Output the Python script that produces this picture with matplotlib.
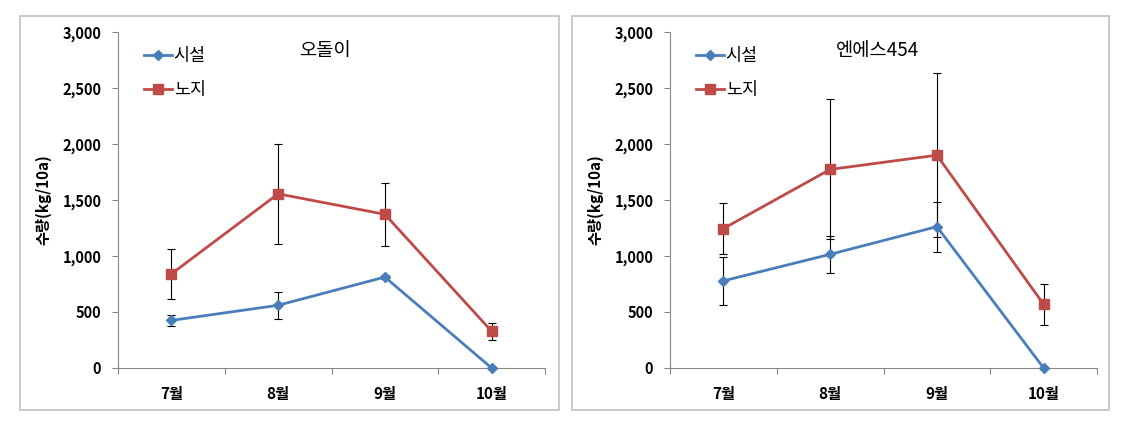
import matplotlib
matplotlib.use("Agg")
import matplotlib.pyplot as plt
from matplotlib.patches import Rectangle
from matplotlib.ticker import FuncFormatter, FixedLocator
import numpy as np

plt.rcParams['font.family'] = ['Noto Sans CJK KR', 'DejaVu Sans']

months = ['7월', '8월', '9월', '10월']
series_names = ['시설', '노지']
titles = ['오돌이', '엔에스454']

# 오돌이
odol_facility = [425, 560, 812, 0]
odol_facility_err = [48, 120, 15, 0]
odol_open = [840, 1555, 1372, 328]
odol_open_err = [225, 445, 280, 78]

# 엔에스454
ns_facility = [778, 1015, 1262, 0]
ns_facility_err = [212, 168, 222, 0]
ns_open = [1245, 1773, 1900, 568]
ns_open_err = [225, 625, 730, 185]

panels = [
    (odol_facility, odol_facility_err, odol_open, odol_open_err),
    (ns_facility, ns_facility_err, ns_open, ns_open_err),
]

W, H = 1136, 424
fig = plt.figure(figsize=(W / 100, H / 100), dpi=100)

def fx(px):
    return px / W

def fy(py):
    return 1 - py / H

# panel frames
for (x0, x1) in [(20, 559), (572, 1109)]:
    fig.patches.append(Rectangle((fx(x0), fy(410)), fx(x1 - x0), (410 - 16) / H,
                                 transform=fig.transFigure, fill=False,
                                 edgecolor='#c0c0c0', linewidth=1.2))

axes_left_px = [118, 670]
blue = '#4A7EBB'
red = '#BE4B48'

for i, (fac, fac_e, opn, opn_e) in enumerate(panels):
    ax = fig.add_axes([fx(axes_left_px[i]), fy(368), fx(427), (368 - 32) / H])
    x = np.arange(len(months))
    ax.errorbar(x, fac, yerr=fac_e, fmt='none', ecolor='black', elinewidth=0.8,
                capsize=3, capthick=0.8, zorder=2)
    ax.errorbar(x, opn, yerr=opn_e, fmt='none', ecolor='black', elinewidth=0.8,
                capsize=3, capthick=0.8, zorder=2)
    ax.plot(x, fac, color=blue, linewidth=2.0, marker='D', markersize=5,
            markerfacecolor=blue, markeredgecolor=blue, label=series_names[0],
            zorder=3, clip_on=False)
    ax.plot(x, opn, color=red, linewidth=2.0, marker='s', markersize=7,
            markerfacecolor=red, markeredgecolor=red, label=series_names[1],
            zorder=3, clip_on=False)

    ax.set_xlim(-0.5, len(months) - 0.5)
    ax.set_ylim(0, 3000)
    ax.set_yticks([0, 500, 1000, 1500, 2000, 2500, 3000])
    ax.yaxis.set_major_formatter(FuncFormatter(lambda v, p: f'{int(v):,}'))
    ax.set_xticks(x)
    ax.set_xticklabels(months)
    ax.xaxis.set_minor_locator(FixedLocator(np.arange(-0.5, len(months), 1.0)))
    ax.tick_params(axis='x', which='major', length=0, pad=13)
    ax.tick_params(axis='x', which='minor', length=4, color='#868686', width=0.8)
    ax.tick_params(axis='y', length=4, color='#868686', width=0.8, pad=8)
    for lab in ax.get_xticklabels():
        lab.set_fontweight('bold')
        lab.set_fontsize(11)
    for lab in ax.get_yticklabels():
        lab.set_fontweight('bold')
        lab.set_fontsize(10.5)
    for s in ['top', 'right']:
        ax.spines[s].set_visible(False)
    for s in ['left', 'bottom']:
        ax.spines[s].set_color('#868686')
        ax.spines[s].set_linewidth(0.8)
    ax.set_ylabel('수량(kg/10a)', fontsize=11, fontweight='bold', labelpad=8)
    ax.text(0.485, 0.945, titles[i], transform=ax.transAxes, ha='center', va='center',
            fontsize=13.5)
    ax.legend(loc='upper left', bbox_to_anchor=(0.045, 0.975), frameon=False,
              fontsize=12.5, handlelength=1.6, handletextpad=0.1, labelspacing=0.9,
              borderaxespad=0)

fig.savefig('out.png', dpi=100)
